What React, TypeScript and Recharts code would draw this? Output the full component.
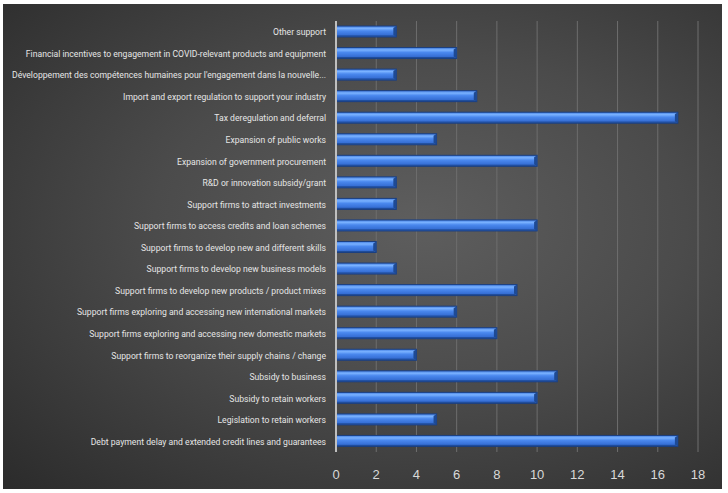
import React from "react";
import { BarChart, Bar, XAxis, YAxis, CartesianGrid } from "recharts";

const categories = [
  "Other support",
  "Financial incentives to engagement in COVID-relevant products and equipment",
  "Développement des compétences humaines pour l'engagement dans la nouvelle...",
  "Import and export regulation to support your industry",
  "Tax deregulation and deferral",
  "Expansion of public works",
  "Expansion of government procurement",
  "R&D or innovation subsidy/grant",
  "Support firms to attract investments",
  "Support firms to access credits and loan schemes",
  "Support firms to develop new and different skills",
  "Support firms to develop new business models",
  "Support firms to develop new products / product mixes",
  "Support firms exploring and accessing new international markets",
  "Support firms exploring and accessing new domestic markets",
  "Support firms to reorganize their supply chains / change",
  "Subsidy to business",
  "Subsidy to retain workers",
  "Legislation to retain workers",
  "Debt payment delay and extended credit lines and guarantees",
];

const values = [3, 6, 3, 7, 17, 5, 10, 3, 3, 10, 2, 3, 9, 6, 8, 4, 11, 10, 5, 17];

const xTicks = [0, 2, 4, 6, 8, 10, 12, 14, 16, 18];

const data = categories.map((name, i) => ({ name, value: values[i] }));

const BevelBar = (props: any) => {
  const { x, y, width, height, index } = props;
  if (!width || width <= 0) return null;
  const b = 2;
  const gid = `barGrad${index}`;
  return (
    <g>
      <defs>
        <linearGradient id={gid} x1="0" y1="0" x2="0" y2="1">
          <stop offset="0%" stopColor="#3f7be0" />
          <stop offset="22%" stopColor="#7ab2ff" />
          <stop offset="45%" stopColor="#4a88ee" />
          <stop offset="80%" stopColor="#3770d6" />
          <stop offset="100%" stopColor="#2452a8" />
        </linearGradient>
      </defs>
      <rect x={x} y={y} width={width} height={height} fill={`url(#${gid})`} stroke="#1b3f80" strokeWidth={1} />
      <polygon
        points={`${x + width},${y} ${x + width},${y + height} ${x + width - b - 1},${y + height - b} ${x + width - b - 1},${y + b}`}
        fill="#1e4a94"
      />
      <line x1={x + 1} y1={y + height - 1} x2={x + width - 2} y2={y + height - 1} stroke="#1f4c99" strokeWidth={1} />
    </g>
  );
};

const YTick = (props: any) => {
  const { x, y, payload } = props;
  return (
    <g transform={`translate(${x},${y}) scale(0.9,1)`}>
      <text
        x={0}
        y={0}
        dy={3.5}
        textAnchor="end"
        fill="#e6e6e6"
        fontSize={9.6}
        fontFamily="Roboto, sans-serif"
      >
        {payload.value}
      </text>
    </g>
  );
};

export default function App() {
  return (
    <div style={{ position: "absolute", left: 0, top: 0, width: 728, height: 493, background: "#ffffff" }}>
      <div
        style={{
          position: "absolute",
          left: 3,
          top: 4,
          width: 719,
          height: 485,
          background: "radial-gradient(ellipse at 58% 45%, #5e5e5e 0%, #4b4b4b 45%, #2b2b2b 100%)",
        }}
      />
      <div style={{ position: "absolute", left: 0, top: 0 }}>
        <BarChart
          width={728}
          height={493}
          data={data}
          layout="vertical"
          margin={{ top: 21, right: 30, bottom: 11, left: 0 }}
        >
          <CartesianGrid horizontal={false} vertical={true} stroke="#6e6e6e" strokeWidth={1} />
          <XAxis
            type="number"
            domain={[0, 18]}
            ticks={xTicks}
            axisLine={false}
            tickLine={false}
            tickMargin={12}
            height={30}
            tick={{ fill: "#d9d9d9", fontSize: 13, fontFamily: "'Liberation Sans', Arial, sans-serif" }}
            interval={0}
          />
          <YAxis
            type="category"
            dataKey="name"
            width={336}
            axisLine={{ stroke: "#bfbfbf", strokeWidth: 2 }}
            tickLine={false}
            tickMargin={4}
            interval={0}
            tick={<YTick />}
          />
          <Bar dataKey="value" barSize={11} shape={<BevelBar />} isAnimationActive={false} />
        </BarChart>
      </div>
    </div>
  );
}
